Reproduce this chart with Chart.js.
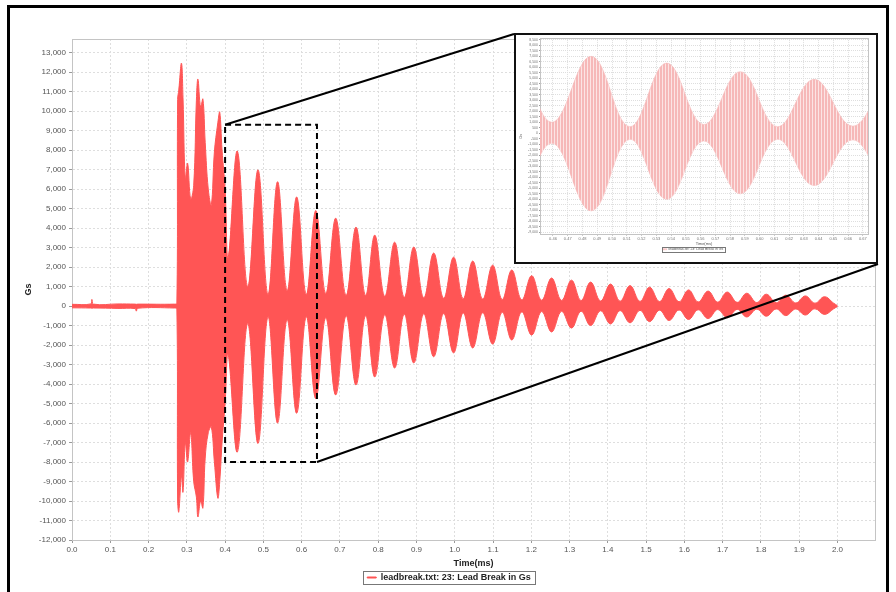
<!DOCTYPE html>
<html>
<head>
<meta charset="utf-8">
<title>Lead Break</title>
<script src="https://cdn.jsdelivr.net/npm/chart.js@4.4.1/dist/chart.umd.min.js"></script>
<style>
  html, body { margin: 0; padding: 0; background: #fff; }
  body { width: 896px; height: 592px; position: relative; overflow: hidden; }
  #frame { position: absolute; left: 7px; top: 5px; width: 876px; height: 620px; border: 3px solid #000; }
  #main { position: absolute; left: 0; top: 0; }
  #insetBox { position: absolute; left: 514px; top: 33px; width: 364px; height: 231px; border: 2px solid #111; background: #fff; box-sizing: border-box; }
  #inset { position: absolute; left: 0; top: 0; }
</style>
</head>
<body>
<div id="frame"></div>
<canvas id="main" width="896" height="592"></canvas>
<div id="insetBox"><canvas id="inset" width="360" height="227"></canvas></div>
<script>
// envelope of the signal: time (ms), top and bottom (Gs)
const times = [0.000, 0.049, 0.052, 0.056, 0.120, 0.165, 0.168, 0.172, 0.268, 0.274,
  0.276, 0.279, 0.286, 0.290, 0.296, 0.302, 0.310, 0.318, 0.325, 0.329,
  0.336, 0.342, 0.348, 0.356, 0.364, 0.372, 0.381, 0.386, 0.392, 0.400,
  0.408, 0.432, 0.459, 0.486, 0.512, 0.537, 0.562, 0.587, 0.612, 0.637,
  0.663, 0.689, 0.716, 0.742, 0.767, 0.791, 0.817, 0.843, 0.868, 0.893,
  0.919, 0.945, 0.971, 0.997, 1.022, 1.047, 1.073, 1.099, 1.124, 1.149,
  1.175, 1.201, 1.227, 1.253, 1.279, 1.305, 1.330, 1.355, 1.381, 1.407,
  1.432, 1.458, 1.484, 1.509, 1.535, 1.560, 1.586, 1.611, 1.636, 1.662,
  1.687, 1.712, 1.738, 1.763, 1.789, 1.814, 1.840, 1.865, 1.891, 1.916,
  1.941, 1.966, 1.990, 2.000];
const topGs = [90, 110, 340, 100, 110, 100, 90, 100, 100, 150,
  10600, 11080, 12460, 10700, 6500, 7330, 5500, 6200, 10560, 11640,
  10200, 10620, 8400, 6000, 5200, 7900, 9400, 9950, 8000, 6000,
  2500, 7950, 1000, 6990, 600, 6380, 800, 5600, 600, 4900,
  650, 4510, 550, 4050, 550, 3640, 500, 3280, 450, 3030,
  420, 2720, 400, 2510, 380, 2310, 360, 2100, 340, 1850,
  320, 1560, 300, 1440, 290, 1330, 280, 1230, 260, 1130,
  250, 1050, 240, 970, 230, 900, 220, 830, 210, 770,
  200, 720, 190, 660, 180, 610, 170, 560, 160, 520,
  150, 480, 150, 20];
const bottomGs = [-90, -100, -110, -100, -120, -130, -260, -110, -100, -150,
  -10000, -10560, -8700, -9540, -7000, -8000, -6500, -9000, -9800, -10820,
  -10000, -10360, -7800, -6500, -6200, -8000, -9850, -9000, -7000, -5000,
  -2500, -7490, -900, -7050, -550, -6000, -700, -5500, -550, -4750,
  -600, -4560, -500, -4050, -500, -3640, -450, -3180, -420, -2920,
  -400, -2600, -380, -2400, -350, -2150, -340, -1950, -320, -1740,
  -300, -1490, -280, -1330, -270, -1130, -260, -1000, -240, -920,
  -230, -860, -220, -800, -210, -740, -200, -690, -190, -640,
  -180, -600, -170, -560, -160, -520, -150, -490, -150, -460,
  -140, -430, -140, -20];

const seriesLabel = 'leadbreak.txt: 23: Lead Break in Gs';
const mainX = [0, 2.098];
const mainY = [-12000, 13700];
const mainXTicks = [0.0, 0.1, 0.2, 0.3, 0.4, 0.5, 0.6, 0.7, 0.8, 0.9, 1.0,
  1.1, 1.2, 1.3, 1.4, 1.5, 1.6, 1.7, 1.8, 1.9, 2.0];
const mainYTicks = [-12000, -11000, -10000, -9000, -8000, -7000, -6000, -5000, -4000,
  -3000, -2000, -1000, 0, 1000, 2000, 3000, 4000, 5000, 6000, 7000, 8000, 9000,
  10000, 11000, 12000, 13000];
const zoomX = [0.40, 0.64];
const zoomY = [-8000, 9300];
const insetX = [0.4512, 0.6735];
const insetY = [-9200, 8650];
const insetXTicks = [0.46, 0.47, 0.48, 0.49, 0.50, 0.51, 0.52, 0.53, 0.54, 0.55, 0.56,
  0.57, 0.58, 0.59, 0.60, 0.61, 0.62, 0.63, 0.64, 0.65, 0.66, 0.67];
const insetYTicks = [-9000, -8500, -8000, -7500, -7000, -6500, -6000, -5500, -5000,
  -4500, -4000, -3500, -3000, -2500, -2000, -1500, -1000, -500, 0, 500, 1000, 1500,
  2000, 2500, 3000, 3500, 4000, 4500, 5000, 5500, 6000, 6500, 7000, 7500, 8000, 8500];

const red = '#FF5555';
const insetBox = { left: 514, top: 34, right: 878, bottom: 264 };

Chart.defaults.font.family = '"Liberation Sans", Arial, sans-serif';
Chart.defaults.animation = false;

const envTop = times.map((t, i) => ({ x: t, y: topGs[i] }));
const envBottom = times.map((t, i) => ({ x: t, y: bottomGs[i] }));
const fmt = v => Math.round(v).toLocaleString('en-US');
const fixTicks = list => scale => { scale.ticks = list.map(v => ({ value: v })); };

// light outline round the plot area
const plotFrame = {
  id: 'plotFrame',
  beforeDatasetsDraw(chart) {
    const a = chart.chartArea, ctx = chart.ctx;
    ctx.save();
    ctx.strokeStyle = '#c4c4c4';
    ctx.lineWidth = 1;
    ctx.strokeRect(Math.round(a.left) + 0.5, Math.round(a.top) + 0.5, Math.round(a.right - a.left), Math.round(a.bottom - a.top));
    ctx.restore();
  }
};

function legendFrame(pad) {
  return {
    id: 'legendFrame',
    afterDraw(chart) {
      const lg = chart.legend;
      if (!lg || !lg.legendHitBoxes || !lg.legendHitBoxes.length) return;
      const b = lg.legendHitBoxes[0], ctx = chart.ctx;
      ctx.save();
      ctx.strokeStyle = '#777';
      ctx.lineWidth = 1;
      ctx.strokeRect(Math.round(b.left - pad) + 0.5, Math.round(b.top - pad / 2) + 0.5,
        Math.round(b.width + 2 * pad), Math.round(b.height + pad));
      ctx.restore();
    }
  };
}

// dashed zoom window and the two lines out to the inset
const zoomMarker = {
  id: 'zoomMarker',
  afterDatasetsDraw(chart) {
    const xs = chart.scales.x, ys = chart.scales.y, ctx = chart.ctx;
    const x1 = xs.getPixelForValue(zoomX[0]), x2 = xs.getPixelForValue(zoomX[1]);
    const y1 = ys.getPixelForValue(zoomY[1]), y2 = ys.getPixelForValue(zoomY[0]);
    ctx.save();
    ctx.strokeStyle = '#000';
    ctx.lineWidth = 2;
    ctx.setLineDash([6, 4]);
    ctx.strokeRect(x1, y1, x2 - x1, y2 - y1);
    ctx.setLineDash([]);
    ctx.beginPath();
    ctx.moveTo(x1, y1);
    ctx.lineTo(insetBox.left, insetBox.top);
    ctx.moveTo(x2, y2);
    ctx.lineTo(insetBox.right, insetBox.bottom);
    ctx.stroke();
    ctx.restore();
  }
};

function gridOpts(tl) {
  return { color: '#dedede', tickColor: '#999', tickLength: tl, drawTicks: true };
}

new Chart(document.getElementById('main'), {
  type: 'line',
  data: {
    datasets: [
      { label: seriesLabel, data: envTop, borderColor: red, backgroundColor: red, fill: '+1',
        borderWidth: 1, pointRadius: 0, tension: 0.4 },
      { label: 'lower', data: envBottom, borderColor: red, backgroundColor: red, fill: false,
        borderWidth: 1, pointRadius: 0, tension: 0.4 }
    ]
  },
  options: {
    responsive: false,
    devicePixelRatio: 1,
    animation: false,
    layout: { padding: { left: 23, top: 39, right: 21, bottom: 0 } },
    scales: {
      x: {
        type: 'linear', min: mainX[0], max: mainX[1],
        afterBuildTicks: fixTicks(mainXTicks),
        afterFit: s => { s.height = 29; },
        ticks: { autoSkip: false, maxRotation: 0,
          callback: v => v.toFixed(1), font: { size: 8 }, color: '#555', padding: 2 },
        grid: gridOpts(3),
        border: { color: '#aaa', width: 1, dash: [2, 2] },
        title: { display: true, text: 'Time(ms)', font: { size: 9, weight: 'bold' }, color: '#222', padding: { top: 2, bottom: 0 } }
      },
      y: {
        type: 'linear', min: mainY[0], max: mainY[1],
        afterBuildTicks: fixTicks(mainYTicks),
        afterFit: s => { s.width = 49; },
        ticks: { autoSkip: false,
          callback: v => fmt(v), font: { size: 8 }, color: '#555', padding: 3 },
        grid: gridOpts(3),
        border: { color: '#aaa', width: 1, dash: [2, 2] },
        title: { display: true, text: 'Gs', font: { size: 9, weight: 'bold' }, color: '#222', padding: { top: 0, bottom: 0 } }
      }
    },
    plugins: {
      legend: {
        position: 'bottom',
        labels: { boxWidth: 9, boxHeight: 1, font: { size: 9, weight: 'bold' }, color: '#222', padding: 4,
          filter: item => item.datasetIndex === 0 }
      },
      tooltip: { enabled: false }
    }
  },
  plugins: [plotFrame, zoomMarker, legendFrame(4)]
});

// striped pink fill for the zoomed view
const stripe = document.createElement('canvas');
stripe.width = 3; stripe.height = 1;
const sctx = stripe.getContext('2d');
sctx.fillStyle = '#F6B8B8'; sctx.fillRect(0, 0, 2, 1);
sctx.fillStyle = '#FCE4E4'; sctx.fillRect(2, 0, 1, 1);
const pinkFill = document.getElementById('inset').getContext('2d').createPattern(stripe, 'repeat');

new Chart(document.getElementById('inset'), {
  type: 'line',
  data: {
    datasets: [
      { label: seriesLabel, data: envTop, borderColor: '#F6BCBC', backgroundColor: pinkFill, fill: '+1',
        borderWidth: 0.6, pointRadius: 0, tension: 0.4 },
      { label: 'lower', data: envBottom, borderColor: '#F6BCBC', backgroundColor: pinkFill, fill: false,
        borderWidth: 0.6, pointRadius: 0, tension: 0.4 }
    ]
  },
  options: {
    responsive: false,
    devicePixelRatio: 1,
    animation: false,
    layout: { padding: { left: 2, top: 1, right: 8, bottom: 1 } },
    scales: {
      x: {
        type: 'linear', min: insetX[0], max: insetX[1],
        afterBuildTicks: fixTicks(insetXTicks),
        afterFit: s => { s.height = 12; },
        ticks: { autoSkip: false, maxRotation: 0,
          callback: v => v.toFixed(2), font: { size: 4 }, color: '#777', padding: 1 },
        grid: gridOpts(1),
        border: { color: '#bbb', width: 1, dash: [1, 1] },
        title: { display: true, text: 'Time(ms)', font: { size: 4 }, color: '#555', padding: 0 }
      },
      y: {
        type: 'linear', min: insetY[0], max: insetY[1],
        afterBuildTicks: fixTicks(insetYTicks),
        afterFit: s => { s.width = 22; },
        ticks: { autoSkip: false,
          callback: v => fmt(v), font: { size: 3.5 }, color: '#777', padding: 1 },
        grid: gridOpts(1),
        border: { color: '#bbb', width: 1, dash: [1, 1] },
        title: { display: true, text: 'Gs', font: { size: 4 }, color: '#555', padding: 0 }
      }
    },
    plugins: {
      legend: {
        position: 'bottom',
        labels: { boxWidth: 4, boxHeight: 1, font: { size: 3.5 }, color: '#555', padding: 1,
          filter: item => item.datasetIndex === 0 }
      },
      tooltip: { enabled: false }
    }
  },
  plugins: [plotFrame, legendFrame(1)]
});
</script>
</body>
</html>
